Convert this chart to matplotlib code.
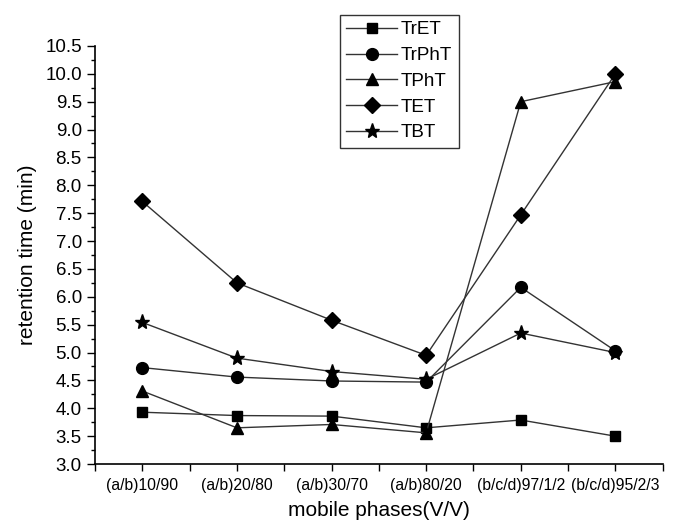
import numpy as np
import matplotlib
matplotlib.use("Agg")
import matplotlib.pyplot as plt
from matplotlib.ticker import MultipleLocator

plt.rcParams['font.family'] = ['Liberation Sans', 'DejaVu Sans']

# 資料
phases = ["(a/b)10/90", "(a/b)20/80", "(a/b)30/70", "(a/b)80/20",
          "(b/c/d)97/1/2", "(b/c/d)95/2/3"]
TrET = [3.93, 3.87, 3.86, 3.65, 3.79, 3.50]
TrPhT = [4.73, 4.56, 4.49, 4.47, 6.17, 5.03]
TPhT = [4.31, 3.65, 3.71, 3.56, 9.50, 9.86]
TET = [7.71, 6.25, 5.58, 4.95, 7.47, 10.0]
TBT = [5.54, 4.90, 4.66, 4.52, 5.35, 5.00]

series = [("TrET", TrET, "s", 7.5), ("TrPhT", TrPhT, "o", 8.5),
          ("TPhT", TPhT, "^", 8.5), ("TET", TET, "D", 8),
          ("TBT", TBT, "*", 11)]

fig = plt.figure(figsize=(6.79, 5.22), dpi=100)
ax = fig.add_axes([0.14, 0.111, 0.836, 0.801])

x = np.arange(len(phases))
for name, vals, mk, ms in series:
    ax.plot(x, vals, color="#333333", lw=1.0, marker=mk, ms=ms,
            mfc="black", mec="black", label=name)

ax.set_xlim(-0.5, 5.5)
ax.set_ylim(3.0, 10.5)
ax.set_xticks(x)
ax.set_xticklabels(phases, fontsize=11.3)
ax.xaxis.set_minor_locator(MultipleLocator(0.5))
ax.yaxis.set_major_locator(MultipleLocator(0.5))
ax.yaxis.set_minor_locator(MultipleLocator(0.25))
ax.tick_params(axis="y", which="major", labelsize=13.5, length=6, width=1)
ax.tick_params(axis="y", which="minor", length=3, width=1)
ax.tick_params(axis="x", which="both", length=5, width=1, pad=5)

ax.spines["top"].set_visible(False)
ax.spines["right"].set_visible(False)
for s in ["left", "bottom"]:
    ax.spines[s].set_linewidth(1.2)

ax.set_ylabel("retention time (min)", fontsize=15, labelpad=6)
ax.set_xlabel("mobile phases(V/V)", fontsize=15, labelpad=6)

leg = fig.legend(loc="upper left", bbox_to_anchor=(0.5, 0.972), fontsize=13.6,
                 frameon=True, fancybox=False, edgecolor="black",
                 handlelength=2.7, labelspacing=0.45, borderpad=0.35,
                 handletextpad=0.2, borderaxespad=0)
leg.get_frame().set_linewidth(1.0)

fig.savefig("out.png", dpi=100)
